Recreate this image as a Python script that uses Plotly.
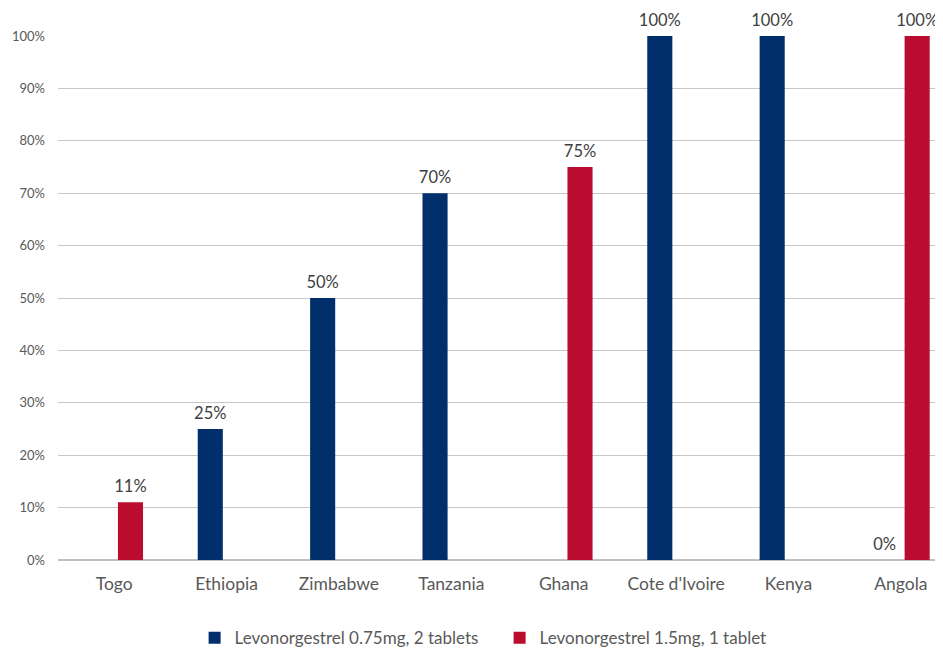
import plotly.graph_objects as go

countries = ["Togo", "Ethiopia", "Zimbabwe", "Tanzania", "Ghana", "Cote d'Ivoire", "Kenya", "Angola"]
series_names = ["Levonorgestrel 0.75mg, 2 tablets", "Levonorgestrel 1.5mg, 1 tablet"]
lng_075_2tab = [None, 25, 50, 70, None, 100, 100, 0]
lng_15_1tab = [11, None, None, None, 75, None, None, 100]
y_ticks = [0, 10, 20, 30, 40, 50, 60, 70, 80, 90, 100]
y_tick_labels = [f"{v}%" for v in y_ticks]

colors = ["#002F6C", "#BA0C2F"]
FONT = "Lato"
TXT = "#595959"
GAP = 0.42


def labels(vals):
    return ["" if v is None else f"{v}%" for v in vals]


fig = go.Figure()
for name, vals, col in zip(series_names, [lng_075_2tab, lng_15_1tab], colors):
    fig.add_trace(go.Bar(
        x=countries, y=vals, name=name,
        marker=dict(color=col, line=dict(width=0)),
        hovertemplate="%{x}: %{y}%<extra>" + name + "</extra>",
    ))
# data labels aligned with the grouped bars
for name, vals in zip(series_names, [lng_075_2tab, lng_15_1tab]):
    fig.add_trace(go.Scatter(
        x=countries, y=vals, mode="markers+text", text=labels(vals),
        textposition="top center", cliponaxis=False, showlegend=False,
        hoverinfo="skip", marker=dict(size=8, opacity=0),
        textfont=dict(family=FONT, size=16.5, color="#404040"),
    ))

fig.update_layout(
    width=935, height=640,
    margin=dict(l=50, r=0, t=28, b=88, autoexpand=False),
    paper_bgcolor="white", plot_bgcolor="white",
    barmode="group", bargap=GAP, bargroupgap=0.23,
    scattermode="group", scattergap=GAP,
    font=dict(family=FONT, color=TXT),
    showlegend=True,
    legend=dict(orientation="h", x=0.499, xanchor="center", y=-0.149, yanchor="middle",
                font=dict(family=FONT, size=17, color=TXT), traceorder="normal",
                entrywidth=260),
    xaxis=dict(range=[-0.5, 7.375], tickfont=dict(family=FONT, size=17.5, color=TXT),
               showgrid=False, ticks="", ticklabelstandoff=11, automargin=False),
    yaxis=dict(range=[0, 100], tickvals=y_ticks, ticktext=y_tick_labels,
               tickfont=dict(family=FONT, size=13, color=TXT),
               showgrid=True, gridcolor="#C8C8C8", gridwidth=1,
               zeroline=True, zerolinecolor="#C0C0C0", zerolinewidth=1.5,
               ticks="", ticklabelstandoff=12, automargin=False),
)

fig.write_html("out.html")
